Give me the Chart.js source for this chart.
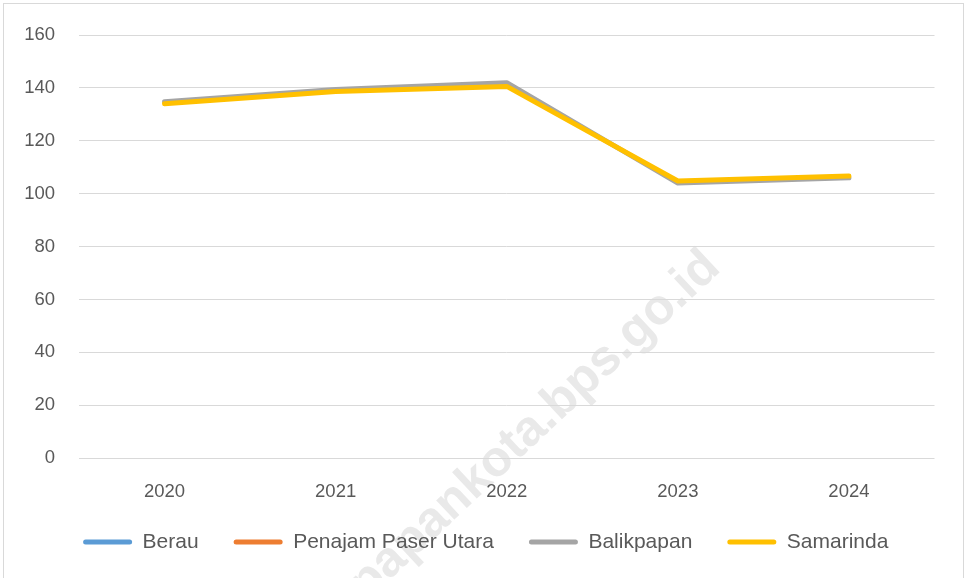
<!DOCTYPE html>
<html>
<head>
<meta charset="utf-8">
<script src="https://cdn.jsdelivr.net/npm/chart.js@4.4.1/dist/chart.umd.min.js"></script>
<style>
  body { margin: 0; background: #fff; }
  #wrap { position: relative; width: 967px; height: 578px; }
  #frame { position: absolute; left: 3px; top: 3px; width: 961px; height: 580px; border: 1px solid #d9d9d9; box-sizing: border-box; pointer-events: none; }
</style>
</head>
<body>
<div id="wrap">
  <canvas id="grafik" width="967" height="578"></canvas>
  <div id="frame"></div>
</div>
<script>
  const tahun = ["2020", "2021", "2022", "2023", "2024"];
  const berau = [null, null, null, null, null];
  const penajamPaserUtara = [null, null, null, null, null];
  const balikpapan = [134.8, 139.4, 142.0, 104.0, 106.0];
  const samarinda = [134.0, 138.7, 140.6, 104.8, 106.7];
  const yMin = 0, yMax = 160, yStep = 20;

  const fontTeks = "'Liberation Sans', Arial, sans-serif";
  const warnaTeks = "#595959";

  // watermark miring di belakang grafik
  const watermark = {
    id: 'watermark',
    beforeDraw(chart) {
      const c = chart.ctx;
      c.save();
      c.translate(722, 270);
      c.rotate(-43 * Math.PI / 180);
      c.font = "bold 50px " + fontTeks;
      c.textAlign = 'right';
      c.textBaseline = 'alphabetic';
      c.fillStyle = '#e9e9e9';
      c.fillText('balikpapankota.bps.go.id', 0, 0);
      c.restore();
    }
  };

  // geser legenda supaya posisinya sama dengan gambar asli
  const geserLegenda = {
    id: 'geserLegenda',
    afterLayout(chart) {
      chart.legend.left += 37;
      chart.legend.top -= 15.5;
    }
  };

  const garis = (label, data, warna, urutan) => ({
    label: label,
    data: data,
    borderColor: warna,
    backgroundColor: warna,
    borderWidth: 5,
    borderCapStyle: 'round',
    borderJoinStyle: 'round',
    pointRadius: 0,
    fill: false,
    tension: 0,
    order: urutan
  });

  const ctx = document.getElementById("grafik").getContext("2d");
  new Chart(ctx, {
    type: 'line',
    data: {
      labels: tahun,
      datasets: [
        garis('Berau', berau, '#5B9BD5', 4),
        garis('Penajam Paser Utara', penajamPaserUtara, '#ED7D31', 3),
        garis('Balikpapan', balikpapan, '#A5A5A5', 2),
        garis('Samarinda', samarinda, '#FFC000', 1)
      ]
    },
    plugins: [watermark, geserLegenda],
    options: {
      responsive: false,
      devicePixelRatio: 1,
      animation: false,
      layout: { padding: { left: 0, right: 32.5, top: 33, bottom: 0 } },
      scales: {
        x: {
          offset: true,
          grid: { display: false },
          border: { display: false },
          ticks: { color: warnaTeks, font: { family: fontTeks, size: 18.5 }, padding: 15, maxRotation: 0 },
          afterFit: s => { s.height = 54; }
        },
        y: {
          min: yMin,
          max: yMax,
          grid: { color: '#d9d9d9', lineWidth: 1, drawTicks: false },
          border: { display: false },
          ticks: { stepSize: yStep, color: warnaTeks, font: { family: fontTeks, size: 18.5 }, padding: 24 },
          afterFit: s => { s.width = 79; }
        }
      },
      plugins: {
        tooltip: { enabled: false },
        legend: {
          position: 'bottom',
          labels: {
            boxWidth: 49,
            boxHeight: 5,
            useBorderRadius: true,
            borderRadius: 2.5,
            padding: 35,
            color: warnaTeks,
            font: { family: fontTeks, size: 21 },
            sort: (a, b) => a.datasetIndex - b.datasetIndex,
            generateLabels(chart) {
              const items = Chart.defaults.plugins.legend.labels.generateLabels(chart);
              items.forEach(it => { it.lineWidth = 0; });
              return items;
            }
          }
        }
      }
    }
  });
</script>
</body>
</html>
